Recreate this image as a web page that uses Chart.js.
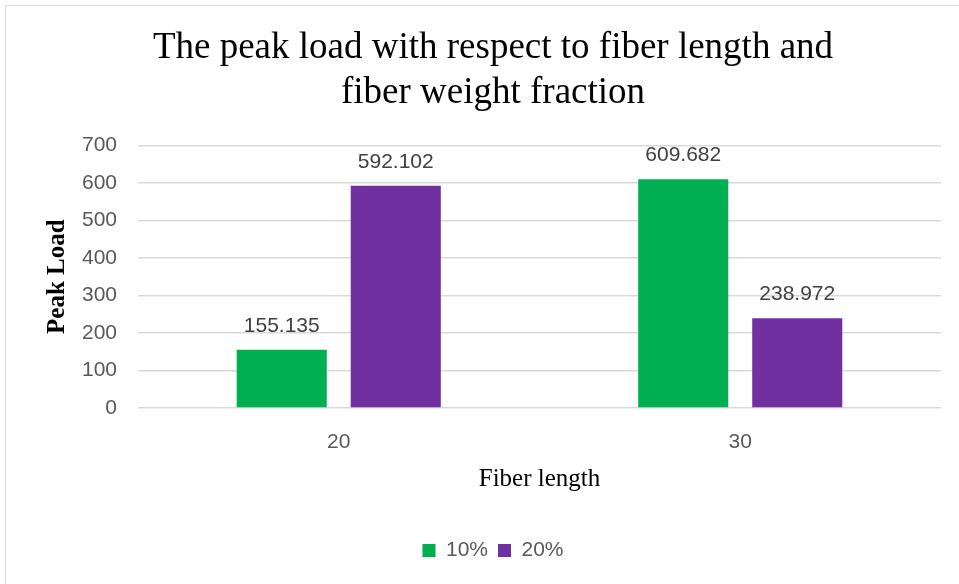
<!DOCTYPE html>
<html>
<head>
<meta charset="utf-8">
<script src="https://cdn.jsdelivr.net/npm/chart.js"></script>
<style>
  html, body { margin: 0; padding: 0; background: #fff; overflow: hidden; }
  #frame { position: absolute; left: 5px; top: 5px; width: 1000px; height: 1000px; border: 1px solid #d9d9d9; }
  #chart { position: absolute; left: 0; top: 0; }
</style>
</head>
<body>
<div id="frame"></div>
<canvas id="chart" width="959" height="584"></canvas>
<script>
// fiber length categories and peak load per weight fraction
const fiberLengths = ["20", "30"];
const seriesNames = ["10%", "20%"];
const load10 = [155.135, 609.682];
const load20 = [592.102, 238.972];
const yTicks = [0, 100, 200, 300, 400, 500, 600, 700];

const SANS = "'Liberation Sans', Arial, sans-serif";
const SERIF = "'Liberation Serif', 'Times New Roman', serif";

// draws the value above each bar, like the excel data labels
const barLabels = {
    id: "barLabels",
    afterDatasetsDraw(chart) {
        const ctx = chart.ctx;
        ctx.save();
        ctx.font = "21px " + SANS;
        ctx.fillStyle = "#404040";
        ctx.textAlign = "center";
        ctx.textBaseline = "middle";
        chart.data.datasets.forEach((ds, i) => {
            chart.getDatasetMeta(i).data.forEach((bar, j) => {
                ctx.fillText(ds.data[j].toFixed(3), bar.x, bar.y - 24);
            });
        });
        ctx.restore();
    }
};

new Chart(document.getElementById("chart").getContext("2d"), {
    type: "bar",
    data: {
        labels: fiberLengths,
        datasets: [
            { label: seriesNames[0], data: load10, backgroundColor: "#00b050" },
            { label: seriesNames[1], data: load20, backgroundColor: "#7030a0" }
        ]
    },
    plugins: [barLabels],
    options: {
        responsive: false,
        animation: false,
        layout: { padding: { left: 45, right: 18, top: 0, bottom: 13 } },
        datasets: { bar: { categoryPercentage: 0.568, barPercentage: 0.79 } },
        plugins: {
            title: {
                display: true,
                text: ["The peak load with respect to fiber length and", "fiber weight fraction"],
                color: "#000",
                font: { family: SERIF, size: 37, weight: "normal", lineHeight: 1.22 },
                padding: { top: 26, bottom: 29 }
            },
            legend: {
                position: "bottom",
                labels: {
                    boxWidth: 13,
                    boxHeight: 13,
                    color: "#595959",
                    font: { family: SANS, size: 21 },
                    padding: 10
                }
            },
            tooltip: { enabled: false }
        },
        scales: {
            x: {
                grid: { display: false },
                border: { display: false },
                ticks: { color: "#595959", font: { family: SANS, size: 21 }, padding: 14 },
                title: {
                    display: true,
                    text: "Fiber length",
                    color: "#000",
                    font: { family: SERIF, size: 25, lineHeight: 1 },
                    padding: { top: 0, bottom: 38 }
                },
                afterFit(scale) { scale.height = 122; }
            },
            y: {
                min: 0,
                max: 700,
                afterBuildTicks(scale) { scale.ticks = yTicks.map(v => ({ value: v })); },
                grid: { color: "#d9d9d9", lineWidth: 1.5, drawTicks: false },
                border: { display: false },
                ticks: { color: "#595959", font: { family: SANS, size: 21 }, padding: 21 },
                title: {
                    display: true,
                    text: "Peak Load",
                    color: "#000",
                    font: { family: SERIF, size: 25, weight: "bold", lineHeight: 1 },
                    padding: { top: 0, bottom: 0 }
                },
                afterFit(scale) { scale.width = 93; }
            }
        }
    }
});
</script>
</body>
</html>
